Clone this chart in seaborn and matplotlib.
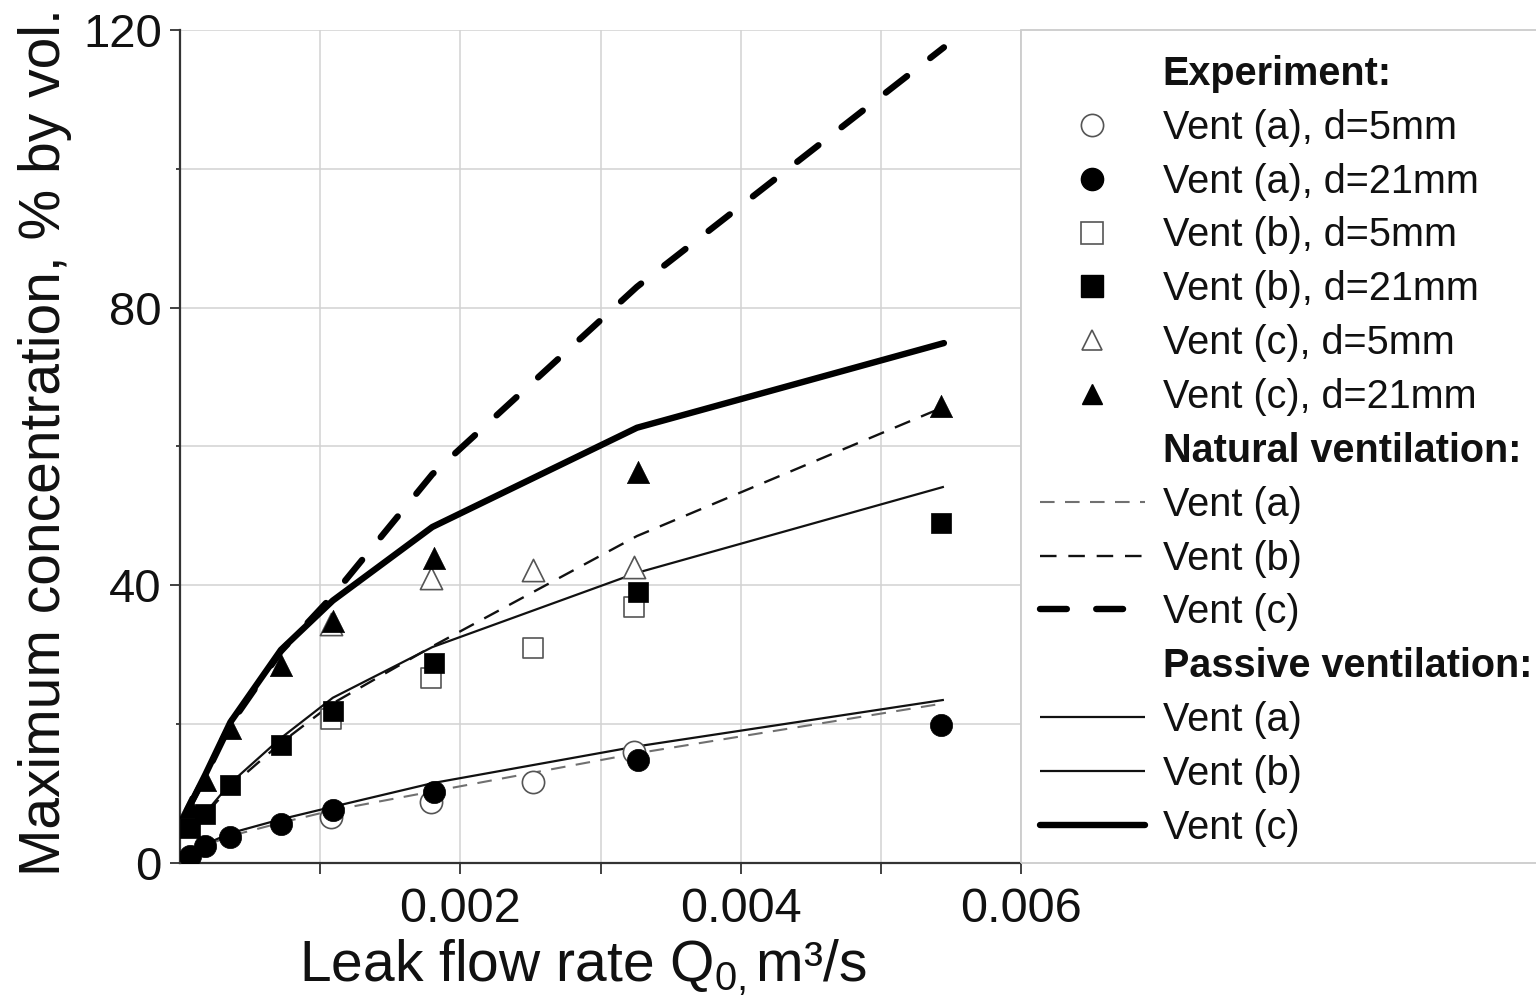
import numpy as np
import pandas as pd
import matplotlib
matplotlib.use("Agg")
import matplotlib.pyplot as plt
from matplotlib.lines import Line2D
from matplotlib.patches import Rectangle
import seaborn as sns

# ---------------- data ----------------
# Experiments, d = 21 mm
X_EXP_21 = [0.00007, 0.00018, 0.00036, 0.00072, 0.00109, 0.00181, 0.00327, 0.00543]
VENT_A_21 = [1.0, 2.4, 3.7, 5.6, 7.6, 10.2, 14.9, 19.9]
VENT_B_21 = [5.0, 7.0, 11.2, 17.0, 21.9, 28.8, 39.0, 49.0]
VENT_C_21 = [8.0, 12.0, 19.5, 28.5, 34.8, 43.9, 56.3, 65.8]

# Experiments, d = 5 mm
X_EXP_5 = [0.00108, 0.00179, 0.00252, 0.00324]
VENT_A_5 = [6.6, 8.8, 11.7, 16.0]
VENT_B_5 = [20.8, 26.6, 31.0, 36.9]
VENT_C_5 = [34.5, 41.0, 42.2, 42.6]

# Model curves
X_MODEL = [0.00005, 0.00018, 0.00036, 0.00072, 0.00109, 0.0018, 0.00326, 0.00545]
NAT_A = [1.2, 2.5, 3.9, 5.8, 7.6, 10.3, 15.8, 23.0]
NAT_B = [4.5, 7.0, 11.0, 17.3, 23.0, 31.2, 47.1, 65.7]
NAT_C = [7.5, 12.5, 20.0, 30.5, 38.5, 56.0, 83.0, 117.5]
PAS_A = [1.3, 2.7, 4.3, 6.3, 8.1, 11.5, 16.8, 23.5]
PAS_B = [4.6, 7.2, 11.5, 18.0, 23.8, 31.1, 41.8, 54.2]
PAS_C = [7.5, 12.7, 20.3, 30.7, 37.8, 48.4, 62.7, 74.9]

X_TICKS = [0.002, 0.004, 0.006]
X_TICK_LABELS = ["0.002", "0.004", "0.006"]
X_MINOR = [0.001, 0.003, 0.005]
Y_TICKS = [0, 40, 80, 120]
Y_TICK_LABELS = ["0", "40", "80", "120"]
Y_MINOR = [20, 60, 100]

# ---------------- style ----------------
sns.set_theme(style="white")
plt.rcParams["font.family"] = ["Liberation Sans", "DejaVu Sans"]
plt.rcParams["mathtext.fontset"] = "custom"
plt.rcParams["mathtext.rm"] = "Liberation Sans"
plt.rcParams["mathtext.it"] = "Liberation Sans"
plt.rcParams["mathtext.bf"] = "Liberation Sans:bold"

fig = plt.figure(figsize=(15.36, 9.97), dpi=100)
ax = fig.add_axes([180 / 1536, 1 - 863 / 997, (1021 - 180) / 1536, (863 - 30) / 997])

# model lines
line_specs = [
    (NAT_A, "#707070", 1.5, (7, 5)),
    (NAT_B, "#111111", 1.7, (7, 5)),
    (NAT_C, "#000000", 4.6, (4.2, 4.6)),
    (PAS_A, "#111111", 1.6, None),
    (PAS_B, "#111111", 1.6, None),
    (PAS_C, "#000000", 4.6, None),
]
for yv, col, lw, dash in line_specs:
    sns.lineplot(x=X_MODEL, y=yv, ax=ax, color=col, linewidth=lw,
                 sort=False, estimator=None, zorder=3)
    ln = ax.lines[-1]
    if dash is not None:
        ln.set_dashes(dash)
        ln.set_dash_capstyle("round" if lw > 3 else "butt")
    else:
        ln.set_solid_capstyle("round" if lw > 3 else "butt")

# experimental points: open (5 mm) first, filled (21 mm) on top
open_kw = dict(color="white", edgecolor="#555555", linewidth=1.2, zorder=4)
fill_kw = dict(color="black", edgecolor="black", linewidth=0.5, zorder=5)
sns.scatterplot(x=X_EXP_5, y=VENT_A_5, marker="o", s=16 ** 2, ax=ax, **open_kw)
sns.scatterplot(x=X_EXP_5, y=VENT_B_5, marker="s", s=15 ** 2, ax=ax, **open_kw)
sns.scatterplot(x=X_EXP_5, y=VENT_C_5, marker="^", s=16 ** 2, ax=ax, **open_kw)
sns.scatterplot(x=X_EXP_21, y=VENT_A_21, marker="o", s=16 ** 2, ax=ax, **fill_kw)
sns.scatterplot(x=X_EXP_21, y=VENT_B_21, marker="s", s=15 ** 2, ax=ax, **fill_kw)
sns.scatterplot(x=X_EXP_21, y=VENT_C_21, marker="^", s=16 ** 2, ax=ax, **fill_kw)

# axes
ax.set_xlim(0, 0.006)
ax.set_ylim(0, 120)
ax.set_xticks(X_TICKS)
ax.set_xticklabels(X_TICK_LABELS)
ax.set_xticks(X_MINOR, minor=True)
ax.set_yticks(Y_TICKS)
ax.set_yticklabels(Y_TICK_LABELS)
ax.set_yticks(Y_MINOR, minor=True)
ax.set_axisbelow(True)
ax.grid(True, which="both", color="#d2d2d2", linewidth=1.1)
for s in ["top", "right"]:
    ax.spines[s].set_visible(False)
for s in ["left", "bottom"]:
    ax.spines[s].set_color("#333333")
    ax.spines[s].set_linewidth(1.6)
ax.tick_params(axis="x", which="both", direction="out", length=8, width=1.3,
               color="#333333", labelsize=35, pad=9, labelcolor="#111111", bottom=True)
ax.tick_params(axis="y", which="major", direction="out", length=7, width=1.3,
               color="#333333", labelsize=34, pad=6, labelcolor="#111111", left=True)
ax.tick_params(axis="y", which="minor", direction="out", length=3, width=1.3,
               color="#333333", left=True)

ax.set_xlabel("Leak flow rate Q$_{0,}$m\u00b3/s", fontsize=41, color="#111111")
ax.set_ylabel("Maximum concentration, % by vol.", fontsize=41, color="#111111")
ax.xaxis.set_label_coords(0.479, -0.089)
ax.yaxis.set_label_coords(-0.128, 0.505)

# legend frame
fig.add_artist(Rectangle((1021 / 1536, 1 - 863 / 997), 0.5, (863 - 30) / 997,
                         transform=fig.transFigure, fill=False,
                         edgecolor="#cccccc", linewidth=1.3, clip_on=False))

blank = Line2D([], [], linestyle="none")
def mk(marker, filled, ms):
    if filled:
        return Line2D([], [], linestyle="none", marker=marker, markersize=ms,
                      markerfacecolor="black", markeredgecolor="black")
    return Line2D([], [], linestyle="none", marker=marker, markersize=ms,
                  markerfacecolor="white", markeredgecolor="#555555", markeredgewidth=1.2)

def lnh(col, lw, dash):
    h = Line2D([], [], color=col, linewidth=lw)
    if dash is not None:
        h.set_dashes(dash)
        h.set_dash_capstyle("round" if lw > 3 else "butt")
    else:
        h.set_solid_capstyle("round" if lw > 3 else "butt")
    return h

handles = [
    blank,
    mk("o", False, 16), mk("o", True, 16), mk("s", False, 16), mk("s", True, 16),
    mk("^", False, 15), mk("^", True, 15),
    blank,
    lnh("#707070", 1.5, (7, 5)), lnh("#111111", 1.7, (7, 5)), lnh("#000000", 4.6, (4.2, 4.6)),
    blank,
    lnh("#111111", 1.6, None), lnh("#111111", 1.6, None), lnh("#000000", 4.6, None),
]
labels = [
    "Experiment:",
    "Vent (a), d=5mm", "Vent (a), d=21mm", "Vent (b), d=5mm", "Vent (b), d=21mm",
    "Vent (c), d=5mm", "Vent (c), d=21mm",
    "Natural ventilation:",
    "Vent (a)", "Vent (b)", "Vent (c)",
    "Passive ventilation:",
    "Vent (a)", "Vent (b)", "Vent (c)",
]
leg = fig.legend(handles, labels, loc="upper left",
                 bbox_to_anchor=(1040 / 1536, 1 - 55 / 997),
                 frameon=False, fontsize=28.5, handlelength=2.65, handletextpad=0.45,
                 labelspacing=0.40, borderpad=0, borderaxespad=0)
for t, lab in zip(leg.get_texts(), labels):
    t.set_color("#111111")
    if lab.endswith(":"):
        t.set_fontweight("bold")

fig.savefig("out.png", dpi=100)
